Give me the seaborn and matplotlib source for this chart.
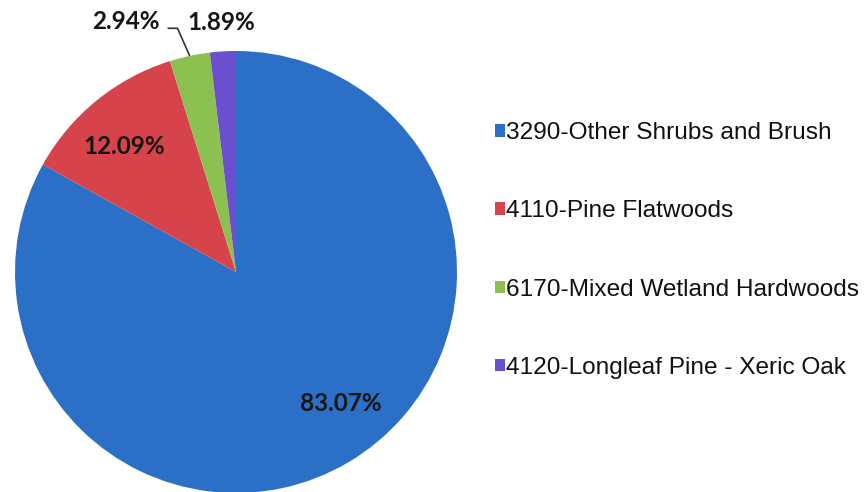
import seaborn as sns
import matplotlib.pyplot as plt
import numpy as np

# land cover shares (percent of area)
categories = ['3290-Other Shrubs and Brush', '4110-Pine Flatwoods',
              '6170-Mixed Wetland Hardwoods', '4120-Longleaf Pine - Xeric Oak']
shares = [83.07, 12.09, 2.94, 1.89]
pct_labels = ['83.07%', '12.09%', '2.94%', '1.89%']
colors = ['#2b6fc7', '#d6434a', '#8cc152', '#6a4fcf']


def polar(angle_deg, r):
    a = np.deg2rad(angle_deg)
    return r * np.cos(a), r * np.sin(a)


sns.set_theme(style='white')
plt.rcParams['font.family'] = ['Liberation Sans', 'DejaVu Sans']

fig = plt.figure(figsize=(8.68, 4.92), dpi=100)
ax = fig.add_axes([0, 0, 1, 1])

wedges, _ = ax.pie(shares, colors=colors, startangle=90, counterclock=False,
                   radius=1, wedgeprops=dict(linewidth=0))

# pie is 221 px in radius, centred at (236, 272) px from the top left
R = 221.0
ax.set_aspect('auto')
ax.set_xlim(-236 / R, (868 - 236) / R)
ax.set_ylim(-(492 - 272) / R, 272 / R)
ax.axis('off')

lab_font = dict(family=['Lato', 'DejaVu Sans'], fontsize=17.5, fontweight='bold', color='#161616')
mids = [(w.theta1 + w.theta2) / 2 for w in wedges]

# big slices: labels inside
x, y = polar(mids[0] + 8, 0.76)
ax.text(x, y, pct_labels[0], ha='center', va='center', **lab_font)
x, y = polar(mids[1] + 2.4, 0.76)
ax.text(x, y, pct_labels[1], ha='center', va='center', **lab_font)

# small green slice: label outside with a leader line
ex, ey = polar(mids[2], 1.0)
elbow = (ex - 0.055, ey + 0.125)
end = (elbow[0] - 0.045, elbow[1])
ax.plot([ex, elbow[0], end[0]], [ey, elbow[1], end[1]], color='#333333', lw=1.2,
        solid_capstyle='butt')
ax.text(end[0] - 0.035, end[1] + 0.03, pct_labels[2], ha='right', va='center', **lab_font)

# small purple slice: label just above
x, y = polar(mids[3], 1.13)
ax.text(x, y, pct_labels[3], ha='center', va='center', **lab_font)

ax.legend(wedges, categories, loc='center left', bbox_to_anchor=(495 / 868, 0.491),
          bbox_transform=fig.transFigure, frameon=False, fontsize=17.6,
          handlelength=0.4, handleheight=0.4, handletextpad=0.06,
          labelspacing=2.3, borderpad=0, borderaxespad=0, labelcolor='#111111')

fig.savefig('out.png', dpi=100)
